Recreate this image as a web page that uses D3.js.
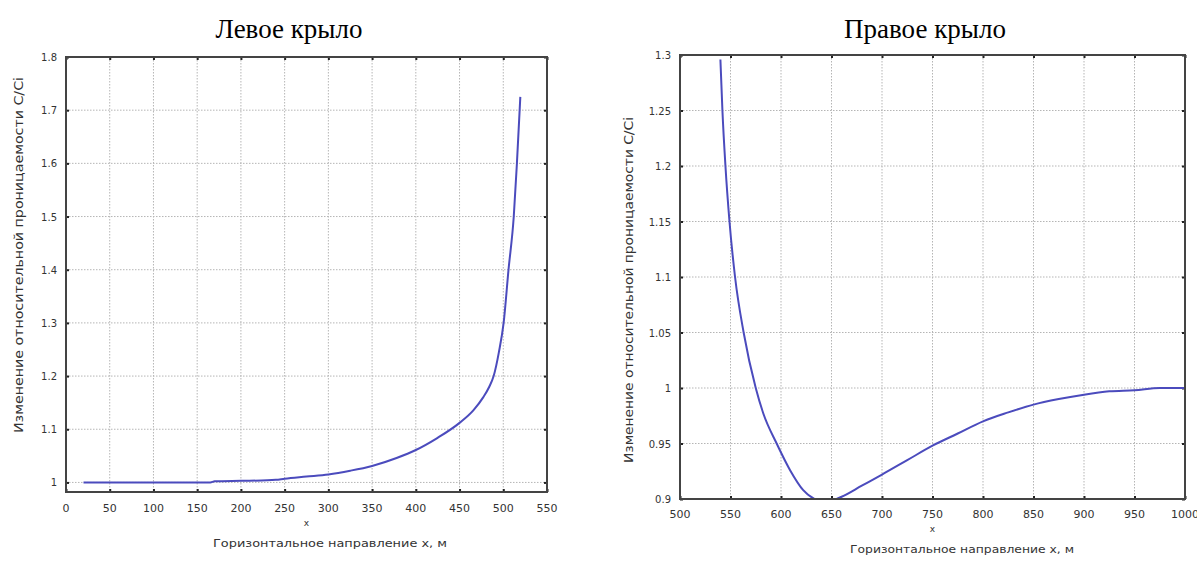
<!DOCTYPE html>
<html><head><meta charset="utf-8">
<script src="https://cdn.jsdelivr.net/npm/d3@7"></script>
<style>body{margin:0;background:#fff}svg{display:block}</style>
</head><body>
<svg id="c" width="1197" height="563"></svg>
<script>
const titles = ["Левое крыло", "Правое крыло"];
const xLabel = "Горизонтальное направление x, м";
const yLabel = "Изменение относительной проницаемости C/Ci";

const leftX = [20,50,100,150,165,170,200,230,240,250,275,300,325,350,378,400,424,450,466,477,484,489,495,500.4,506,512,515.6,519.5];
const leftY = [1.0,1.0,1.0,1.0,1.0,1.002,1.003,1.004,1.005,1.007,1.011,1.015,1.022,1.031,1.046,1.061,1.083,1.112,1.136,1.16,1.18,1.2,1.245,1.3,1.4,1.5,1.6,1.725];
const leftXTicks = [0,50,100,150,200,250,300,350,400,450,500,550];
const leftYTicks = [1,1.1,1.2,1.3,1.4,1.5,1.6,1.7,1.8];

const rightX = [540,542,545,549,554.5,563,575,582.5,595.7,609,622,633,645,655,660,680,700,725,750,775,800,825,850,875,900,925,950,975,1000];
const rightY = [1.296,1.25,1.2,1.15,1.1,1.05,1.0,0.977,0.95,0.926,0.908,0.9,0.897,0.9,0.902,0.912,0.922,0.935,0.948,0.959,0.97,0.978,0.985,0.99,0.994,0.997,0.998,1.0,1.0];
const rightXTicks = [500,550,600,650,700,750,800,850,900,950,1000];
const rightYTicks = [0.9,0.95,1,1.05,1.1,1.15,1.2,1.25,1.3];

const svg = d3.select("#c");

function panel(cfg){
  const g = svg.append("g");
  const x = d3.scaleLinear().domain(cfg.xDomain).range([cfg.left, cfg.right]);
  const y = d3.scaleLinear().domain(cfg.yDomain).range([cfg.bottom, cfg.top]);
  const clipId = "clip" + cfg.id;
  svg.append("clipPath").attr("id", clipId).append("rect")
    .attr("x", cfg.left).attr("y", cfg.top)
    .attr("width", cfg.right - cfg.left).attr("height", cfg.bottom - cfg.top);

  // grid
  g.append("g").selectAll("line").data(cfg.xTicks.slice(1,-1)).join("line")
    .attr("x1", d=>x(d)).attr("x2", d=>x(d)).attr("y1", cfg.top).attr("y2", cfg.bottom)
    .attr("stroke", "#b5b5b5").attr("stroke-width", 1).attr("stroke-dasharray", "1.5,1.5");
  g.append("g").selectAll("line").data(cfg.yTicks.filter(d=>d>cfg.yDomain[0]+1e-9 && d<cfg.yDomain[1]-1e-9)).join("line")
    .attr("y1", d=>y(d)).attr("y2", d=>y(d)).attr("x1", cfg.left).attr("x2", cfg.right)
    .attr("stroke", "#b5b5b5").attr("stroke-width", 1).attr("stroke-dasharray", "1.5,1.5");

  // axes (ticks inward on all four sides)
  const tickStyle = s => { s.select(".domain").remove(); s.selectAll("line").attr("stroke","#222").attr("stroke-width",2); s.selectAll("text").remove(); };
  g.append("g").attr("transform",`translate(0,${cfg.bottom})`).call(d3.axisTop(x).tickValues(cfg.xTicks).tickSize(3)).call(tickStyle);
  g.append("g").attr("transform",`translate(0,${cfg.top})`).call(d3.axisBottom(x).tickValues(cfg.xTicks).tickSize(3)).call(tickStyle);
  g.append("g").attr("transform",`translate(${cfg.left},0)`).call(d3.axisRight(y).tickValues(cfg.yTicks).tickSize(3)).call(tickStyle);
  g.append("g").attr("transform",`translate(${cfg.right},0)`).call(d3.axisLeft(y).tickValues(cfg.yTicks).tickSize(3)).call(tickStyle);

  // tick labels
  g.append("g").selectAll("text").data(cfg.xTicks).join("text")
    .attr("x", d=>x(d)).attr("y", cfg.bottom + cfg.xLabOff)
    .attr("text-anchor","middle").attr("font-family","DejaVu Sans").attr("font-size",11)
    .attr("fill","#333").text(d=>String(d));
  g.append("g").selectAll("text").data(cfg.yTicks).join("text")
    .attr("x", cfg.left - 9).attr("y", d=>y(d)+4)
    .attr("text-anchor","end").attr("font-family","DejaVu Sans").attr("font-size",10)
    .attr("fill","#333").text(d=>String(d));

  // curve
  const pts = cfg.xs.map((v,i)=>[v, cfg.ys[i]]);
  g.append("path").datum(pts)
    .attr("clip-path", `url(#${clipId})`)
    .attr("fill","none").attr("stroke","#4b4bbd").attr("stroke-width",2)
    .attr("d", d3.line().x(d=>x(d[0])).y(d=>y(d[1])).curve(d3.curveMonotoneX));

  // frame
  g.append("rect").attr("x",cfg.left).attr("y",cfg.top)
    .attr("width",cfg.right-cfg.left).attr("height",cfg.bottom-cfg.top)
    .attr("fill","none").attr("stroke","#444").attr("stroke-width",2);

  // titles & labels
  svg.append("text").attr("x", cfg.titleX).attr("y", 38).attr("text-anchor","middle")
    .attr("font-family","Liberation Serif").attr("font-size",27).attr("fill","#000").text(cfg.title);
  svg.append("text").attr("x",(cfg.left+cfg.right)/2).attr("y", cfg.bottom + cfg.xLabOff + 14)
    .attr("text-anchor","middle").attr("font-family","DejaVu Sans").attr("font-size",9).attr("fill","#333").text("x");
  svg.append("text").attr("x", cfg.xlabX).attr("y", cfg.xlabY).attr("text-anchor","middle")
    .attr("font-family","DejaVu Sans").attr("font-size",11).attr("fill","#333")
    .attr("textLength", cfg.xlabLen).attr("lengthAdjust","spacingAndGlyphs").text(xLabel);
  svg.append("text").attr("transform",`translate(${cfg.ylabX},${cfg.ylabY}) rotate(-90)`)
    .attr("text-anchor","middle").attr("font-family","DejaVu Sans").attr("font-size",12).attr("fill","#333")
    .attr("textLength", cfg.ylabLen).attr("lengthAdjust","spacingAndGlyphs").text(yLabel);
}

panel({id:1, left:66, right:547, top:57, bottom:492, xDomain:[0,550], yDomain:[0.982,1.8],
  xTicks:leftXTicks, yTicks:leftYTicks, xs:leftX, ys:leftY, title:titles[0], titleX:289,
  xLabOff:20, xlabX:330, xlabY:547, xlabLen:234, ylabX:23, ylabY:255, ylabLen:356});
panel({id:2, left:680, right:1185, top:55, bottom:499, xDomain:[500,1000], yDomain:[0.9,1.3],
  xTicks:rightXTicks, yTicks:rightYTicks, xs:rightX, ys:rightY, title:titles[1], titleX:925,
  xLabOff:19, xlabX:962, xlabY:553, xlabLen:224, ylabX:633, ylabY:290, ylabLen:346});
</script>
</body></html>
